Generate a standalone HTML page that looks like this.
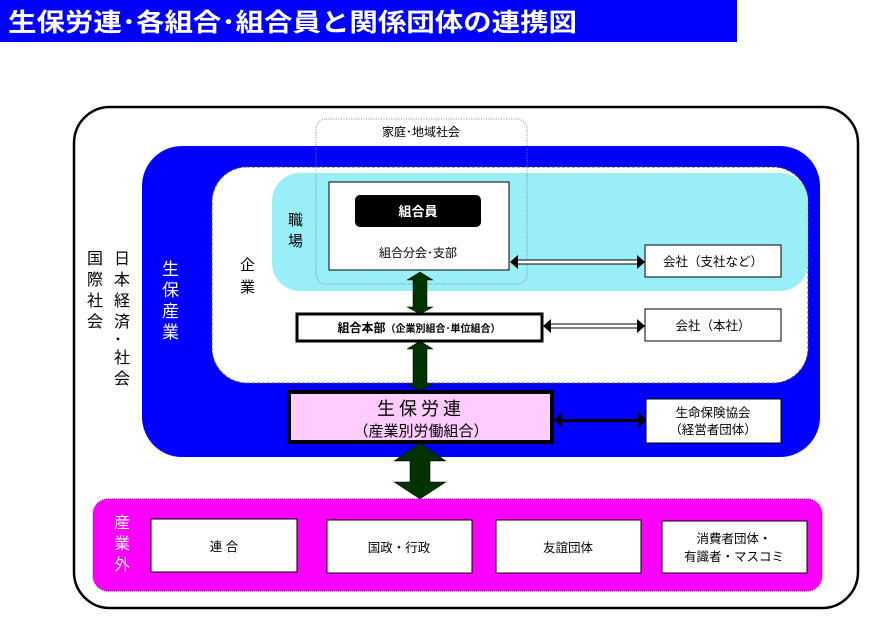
<!DOCTYPE html>
<html><head><meta charset="utf-8"><style>
html,body{margin:0;padding:0;background:#fff;width:872px;height:641px;overflow:hidden}
svg text{font-family:"Liberation Sans","Noto Sans CJK JP",sans-serif}
</style></head><body>
<svg width="872" height="641" viewBox="0 0 872 641" xmlns="http://www.w3.org/2000/svg">
<rect x="0" y="0" width="737" height="42" fill="#0000ff"/>
<text x="8" y="31" font-size="25" font-weight="bold" fill="#fff" textLength="569" lengthAdjust="spacingAndGlyphs">生保労連･各組合･組合員と関係団体の連携図</text>
<rect x="74" y="107" width="784" height="501" rx="36" fill="#fff" stroke="#000" stroke-width="2.5"/>
<rect x="142" y="146" width="678" height="311" rx="40" fill="#0000ff"/>
<rect x="212" y="167" width="596" height="216" rx="35" fill="#fff" stroke="#555" stroke-dasharray="3,2"/>
<rect x="272" y="173" width="536" height="118" rx="28" fill="#99eef8"/>
<rect x="316" y="119" width="211" height="165" rx="10" fill="none" stroke="#888" stroke-dasharray="1,1.5"/>
<text x="421" y="136" font-size="12" text-anchor="middle">家庭･地域社会</text>
<rect x="329" y="182" width="180" height="88" fill="#fff" stroke="#000"/>
<rect x="355" y="195" width="126" height="32" rx="5" fill="#000"/>
<text x="418" y="216" font-size="13" font-weight="bold" fill="#fff" text-anchor="middle">組合員</text>
<text x="418" y="257" font-size="12" text-anchor="middle">組合分会･支部</text>
<g font-size="15">
<text x="288" y="225">職</text><text x="288" y="246">場</text>
<text x="240" y="270">企</text><text x="240" y="292">業</text>
</g>
<g font-size="17" fill="#fff">
<text x="162" y="275">生</text><text x="162" y="296">保</text><text x="162" y="317">産</text><text x="162" y="338">業</text>
</g>
<g font-size="16">
<text x="87" y="264">国</text><text x="87" y="285">際</text><text x="87" y="306">社</text><text x="87" y="327">会</text>
<text x="114" y="264">日</text><text x="114" y="285">本</text><text x="114" y="306">経</text><text x="114" y="327">済</text><text x="114" y="345">･</text><text x="114" y="363">社</text><text x="114" y="384">会</text>
</g>
<rect x="645" y="245" width="136" height="32" fill="#fff" stroke="#000"/>
<text x="713" y="266" font-size="12.5" text-anchor="middle">会社（支社など）</text>
<rect x="645" y="309" width="136" height="32" fill="#fff" stroke="#000"/>
<text x="713" y="330" font-size="12.5" text-anchor="middle">会社（本社）</text>
<rect x="646" y="399" width="135" height="44" fill="#fff" stroke="#000"/>
<text x="713" y="417" font-size="12.5" text-anchor="middle">生命保険協会</text>
<text x="713" y="434" font-size="12.5" text-anchor="middle">（経営者団体）</text>
<g>
<rect x="516" y="260" width="124" height="4" fill="#fff" stroke="#000" stroke-width="1"/>
<polygon points="510,262 518,255 518,269" fill="#000"/>
<polygon points="645,262 637,255 637,269" fill="#000"/>
<rect x="549" y="324" width="91" height="4" fill="#fff" stroke="#000" stroke-width="1"/>
<polygon points="543,326 551,319 551,333" fill="#000"/>
<polygon points="645,326 637,319 637,333" fill="#000"/>
<rect x="560" y="419" width="80" height="3" fill="#000"/>
<polygon points="554,420 562,412 562,428" fill="#000"/>
<polygon points="646,420 638,412 638,428" fill="#000"/>
</g>
<g fill="#003300" stroke="#000" stroke-width="0.5">
<polygon points="420,272 433,280 427,280 427,307 433,307 420,314 407,307 413,307 413,280 407,280"/>
<polygon points="420,341 433,349 427,349 427,384 433,384 420,391 407,384 413,384 413,349 407,349"/>
<polygon points="420,443 446,461 430,461 430,482 446,482 420,499 394,482 410,482 410,461 394,461"/>
</g>
<rect x="297" y="314" width="245" height="27" fill="#fff" stroke="#000" stroke-width="3"/>
<text x="419" y="332" font-size="12" font-weight="bold" text-anchor="middle">組合本部<tspan font-size="10">（企業別組合･単位組合）</tspan></text>
<rect x="289" y="392" width="263" height="50" fill="#ffccff" stroke="#000" stroke-width="4"/>
<text x="421" y="415" font-size="18" text-anchor="middle" letter-spacing="4">生保労連</text>
<text x="421" y="436" font-size="15" text-anchor="middle">（産業別労働組合）</text>
<rect x="93" y="499" width="729" height="92" rx="15" fill="#ff00ff" stroke="#aa00aa" stroke-dasharray="1,1"/>
<g font-size="16" fill="#fff">
<text x="114" y="528">産</text><text x="114" y="549">業</text><text x="114" y="570">外</text>
</g>
<g fill="#fff" stroke="#000">
<rect x="151" y="519" width="146" height="53"/>
<rect x="327" y="520" width="145" height="53"/>
<rect x="496" y="520" width="145" height="53"/>
<rect x="662" y="521" width="145" height="52"/>
</g>
<g font-size="12.5" text-anchor="middle">
<text x="224" y="551">連 合</text>
<text x="399" y="552">国政・行政</text>
<text x="568" y="552">友誼団体</text>
<text x="734" y="543">消費者団体・</text>
<text x="734" y="561">有識者・マスコミ</text>
</g>
</svg>
</body></html>
